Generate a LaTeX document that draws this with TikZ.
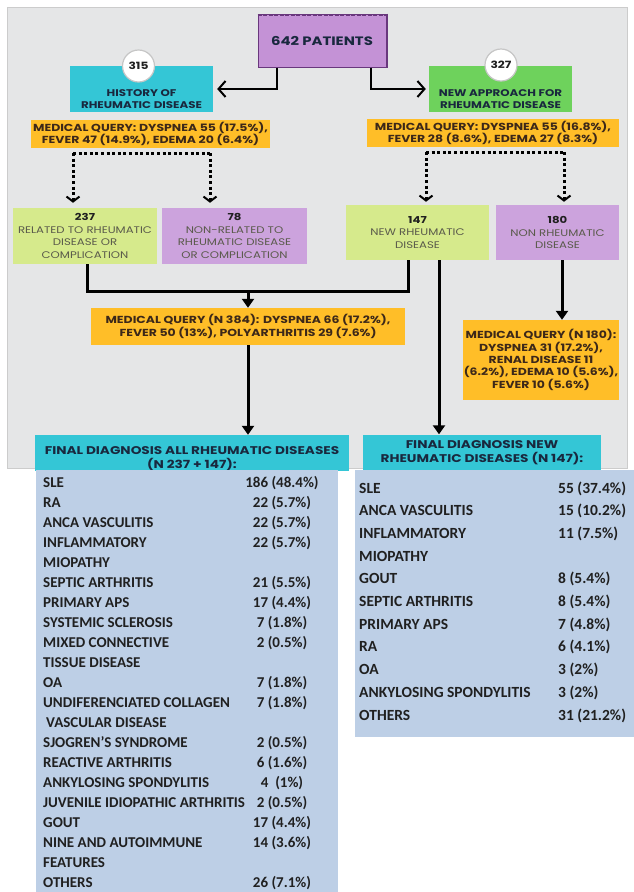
\documentclass[tikz,border=0pt]{standalone}
\usepackage{fontspec}
\usepackage{xcolor}
\newfontfamily\popfont{Poppins}[FakeStretch=1.22]
\newfontfamily\calfont{Carlito}
\usetikzlibrary{positioning,calc,arrows.meta}

\definecolor{panelgray}{RGB}{229,230,231}
\definecolor{lilac}{RGB}{204,163,221}
\definecolor{patpurple}{RGB}{196,146,214}
\definecolor{darkpurple}{RGB}{105,55,125}
\definecolor{aqua}{RGB}{52,198,214}
\definecolor{grassgreen}{RGB}{110,210,92}
\definecolor{amber}{RGB}{255,190,40}
\definecolor{limegreen}{RGB}{214,234,140}
\definecolor{tableblue}{RGB}{189,207,230}
\definecolor{inkbrown}{RGB}{60,40,25}
\definecolor{inknavy}{RGB}{25,40,62}
\definecolor{inkgray}{RGB}{90,90,75}
\definecolor{inkdark}{RGB}{32,32,32}

\newcommand{\rowfontL}{\calfont\bfseries\fontsize{15}{20}\selectfont}
\newcommand{\rowfontR}{\calfont\bfseries\fontsize{15.5}{20}\selectfont}

\begin{document}
\begin{tikzpicture}[x=1pt,y=-1pt,
	box/.style={rectangle,inner sep=0pt,align=center},
	querybox/.style={box,fill=amber,text=inkbrown,font=\popfont\bfseries\fontsize{10.2}{12.4}\selectfont},
	groupbox/.style={box,text=inkgray,font=\popfont\fontsize{9.6}{12.5}\selectfont},
	headtext/.style={box,text=inknavy,font=\popfont\bfseries\fontsize{11.2}{14}\selectfont},
	numcircle/.style={circle,fill=white,draw=gray!45,line width=1.2pt,minimum size=32pt,inner sep=0pt,text=inkdark,font=\popfont\bfseries\fontsize{10}{12}\selectfont},
	conn/.style={line width=3pt},
	arr/.style={conn,-{Triangle[length=9pt,width=12pt]}},
	openarr/.style={line width=2pt,-{Straight Barb[length=7pt,width=16pt]}},
	dotline/.style={line width=3pt,dash pattern=on 3pt off 2.6pt},
	dotarr/.style={dotline,-{Straight Barb[length=5pt,width=13pt,line width=2pt]}},
	rowlabel/.style={anchor=base west,inner sep=0pt,text=inkdark},
	rowvalue/.style={anchor=base,inner sep=0pt,text=inkdark}]

\useasboundingbox (0,0) rectangle (634,892);
\fill[panelgray,draw=gray!40] (7,7) rectangle (627,468);

% top of the chart
\node[box,fill=patpurple,draw=darkpurple,line width=1pt,minimum width=128pt,minimum height=53pt,text=inknavy,font=\popfont\bfseries\fontsize{12.2}{14}\selectfont] (pat) at (322,40.5) {642 PATIENTS};
\draw[darkpurple,line width=2pt] (pat.north east) -- (pat.south east);
\draw[darkpurple,line width=1.5pt,dash pattern=on 4pt off 1.5pt] ([yshift=-1.5pt]pat.north west) -- ([yshift=-1.5pt]pat.north east);

\node[box,fill=aqua,minimum width=143pt,minimum height=46pt] (hist) at (141.5,89) {};
\node[headtext,font=\popfont\bfseries\fontsize{9.7}{12.8}\selectfont,above=3pt of hist.south] (histtxt) {HISTORY OF\\RHEUMATIC DISEASE};
\node[numcircle] (c315) at (138.5,66) {315};

\node[box,fill=grassgreen,minimum width=143pt,minimum height=46pt] (newapp) at (500.5,89) {};
\node[headtext,font=\popfont\bfseries\fontsize{9.7}{12.8}\selectfont,above=3pt of newapp.south] (newtxt) {NEW APPROACH FOR\\RHEUMATIC DISEASE};
\node[numcircle] (c327) at (501,65) {327};

\node[querybox,minimum width=239pt,minimum height=28pt] (q1) at (150.5,134) {MEDICAL QUERY: DYSPNEA 55 (17.5\%),\\FEVER 47 (14.9\%), EDEMA 20 (6.4\%)};
\node[querybox,minimum width=252pt,minimum height=28pt] (q2) at (493,133) {MEDICAL QUERY: DYSPNEA 55 (16.8\%),\\FEVER 28 (8.6\%), EDEMA 27 (8.3\%)};

% groups
\node[groupbox,fill=limegreen,minimum width=144pt,minimum height=56pt] (r237) at (85,236) {{\bfseries\color{inkdark}237}\\RELATED TO RHEUMATIC\\DISEASE OR\\COMPLICATION};
\node[groupbox,fill=lilac,minimum width=145pt,minimum height=56pt] (r78) at (234.5,236) {{\bfseries\color{inkdark}78}\\NON-RELATED TO\\RHEUMATIC DISEASE\\OR COMPLICATION};
\node[groupbox,fill=limegreen,minimum width=143pt,minimum height=55pt] (r147) at (417.5,232.5) {{\bfseries\color{inkdark}147}\\NEW RHEUMATIC\\DISEASE};
\node[groupbox,fill=lilac,minimum width=123pt,minimum height=55pt] (r180) at (557.5,232.5) {{\bfseries\color{inkdark}180}\\NON RHEUMATIC\\DISEASE};

\node[querybox,minimum width=314pt,minimum height=37pt] (q3) at (248,326.5) {MEDICAL QUERY (N 384): DYSPNEA 66 (17.2\%),\\FEVER 50 (13\%), POLYARTHRITIS 29 (7.6\%)};
\node[querybox,minimum width=156pt,minimum height=80pt] (q4) at (541,360) {MEDICAL QUERY (N 180):\\DYSPNEA 31 (17.2\%),\\RENAL DISEASE 11\\(6.2\%), EDEMA 10 (5.6\%),\\FEVER 10 (5.6\%)};

\node[box,fill=aqua,minimum width=314pt,minimum height=36pt] (hdrL) at (192,453) {};
\node[headtext,below=12pt of hdrL.north] (hdrLtxt) {FINAL DIAGNOSIS ALL RHEUMATIC DISEASES\\(N 237 + 147):};
\node[headtext,fill=aqua,minimum width=238pt,minimum height=36pt] (hdrR) at (482,452.5) {FINAL DIAGNOSIS NEW\\RHEUMATIC DISEASES (N 147):};

% arrows
\draw[openarr,shorten >=4pt] ([xshift=-45pt]pat.south) |- (hist.east);
\draw[openarr,shorten >=3pt] ([xshift=49pt]pat.south) |- (newapp.west);

\coordinate (dl1) at (73,153);
\coordinate (dr1) at (210,153);
\coordinate (dl2) at (426,152);
\coordinate (dr2) at (564,152);
\draw[dotline] (dl1) -- (dr1);
\draw[dotline] (dl2) -- (dr2);
\draw[dotarr,shorten >=5pt] (dl1) -- (dl1 |- r237.north);
\draw[dotarr,shorten >=5pt] (dr1) -- (dr1 |- r78.north);
\draw[dotarr,shorten >=3pt] (dl2) -- (dl2 |- r147.north);
\draw[dotarr,shorten >=3pt] (dr2) -- (dr2 |- r180.north);

\coordinate (jn) at (248,291);
\draw[conn] ([xshift=2pt]r237.south) |- (jn) -| ([xshift=-9.5pt]r147.south);
\draw[arr] (jn) -- (q3.north);
\draw[arr] (q3.south) -- (q3.south |- hdrL.north);
\draw[arr] ([xshift=21.5pt]r147.south) -- ([xshift=21.5pt]r147.south |- hdrR.north);
\draw[arr] ([xshift=4.5pt]r180.south) -- ([xshift=4.5pt]r180.south |- q4.north);

% tables
\node[box,fill=tableblue,minimum width=302pt,minimum height=422pt] (tabL) at (187,681) {};
\node[box,fill=tableblue,minimum width=279pt,minimum height=267pt] (tabR) at (494.5,603.5) {};

\foreach \lab/\val [count=\i from 0] in {SLE/186 (48.4\%),RA/22 (5.7\%),ANCA VASCULITIS/22 (5.7\%),INFLAMMATORY/22 (5.7\%),MIOPATHY/{},SEPTIC ARTHRITIS/21 (5.5\%),PRIMARY APS/17 (4.4\%),SYSTEMIC SCLEROSIS/7 (1.8\%),MIXED CONNECTIVE/2 (0.5\%),TISSUE DISEASE/{},OA/7 (1.8\%),UNDIFERENCIATED COLLAGEN/7 (1.8\%),\hspace{3pt}VASCULAR DISEASE/{},SJOGREN’S SYNDROME/2 (0.5\%),REACTIVE ARTHRITIS/6 (1.6\%),ANKYLOSING SPONDYLITIS/4\ \ (1\%),JUVENILE IDIOPATHIC ARTHRITIS/2 (0.5\%),GOUT/17 (4.4\%),NINE AND AUTOIMMUNE/14 (3.6\%),FEATURES/{},OTHERS/26 (7.1\%)}{
	\node[rowlabel,font=\rowfontL] (la\i) at (43,487+20*\i) {\lab};
	\node[rowvalue,font=\rowfontL] (va\i) at (282,487+20*\i) {\val};
}

\foreach \lab/\val [count=\i from 0] in {SLE/55 (37.4\%),ANCA VASCULITIS/15 (10.2\%),INFLAMMATORY/11 (7.5\%),MIOPATHY/{},GOUT/8 (5.4\%),SEPTIC ARTHRITIS/8 (5.4\%),PRIMARY APS/7 (4.8\%),RA/6 (4.1\%),OA/3 (2\%),ANKYLOSING SPONDYLITIS/3 (2\%),OTHERS/31 (21.2\%)}{
	\node[rowlabel,font=\rowfontR] (lb\i) at (359,493+22.7*\i) {\lab};
	\node[rowlabel,font=\rowfontR] (vb\i) at (558,493+22.7*\i) {\val};
}

\end{tikzpicture}
\end{document}
